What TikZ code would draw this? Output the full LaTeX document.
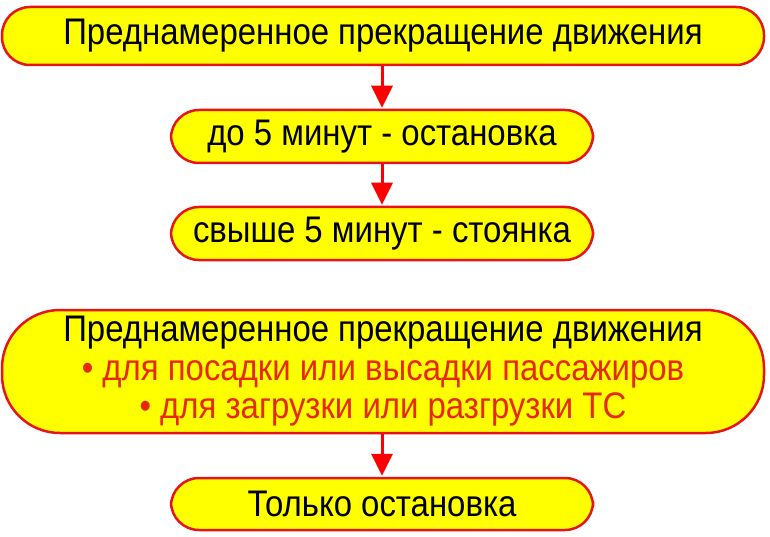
\documentclass[tikz,border=0pt]{standalone}
\usepackage{fontspec}
\setmainfont{Liberation Sans}[FakeStretch=0.89]
\usetikzlibrary{arrows.meta}
\definecolor{boxyellow}{RGB}{255, 255, 0}
\definecolor{boxred}{RGB}{230, 20, 20}
\definecolor{notered}{RGB}{232, 40, 0}

\tikzset{
    stadium/.style={draw=boxred, fill=boxyellow, line width=2.5pt,
        rounded corners=28pt, align=center, inner sep=0pt,
        font=\fontsize{37}{38.5}\selectfont},
    wide/.style={stadium, minimum width=762pt, minimum height=58pt},
    narrow/.style={stadium, minimum width=422pt, minimum height=53pt},
    flow/.style={draw=red, line width=3pt,
        -{Triangle[width=21pt, length=22pt]}, shorten >=1pt}
}

\begin{document}
\begin{tikzpicture}[x=1pt, y=-1pt]
\useasboundingbox (0,0) rectangle (770,537);

% === Parte superior: parada y estacionamiento ===
\node[wide]   (intent) at (383, 36)    {Преднамеренное прекращение движения};
\node[narrow] (short)  at (382, 136.5) {до 5 минут - остановка};
\node[narrow] (long)   at (382, 233.5) {свыше 5 минут - стоянка};

\draw[flow] (intent.south -| short.north) -- (short.north);
\draw[flow] (short) -- (long);

% === Parte inferior: solo parada ===
\node[wide, minimum height=123pt, rounded corners=58pt] (purpose) at (383, 371.5)
    {Преднамеренное прекращение движения\\
     \textcolor{notered}{• для посадки или высадки пассажиров}\\
     \textcolor{notered}{• для загрузки или разгрузки ТС}};
\node[narrow, minimum height=52pt] (only) at (382, 504) {Только остановка};

\draw[flow] (purpose.south -| only.north) -- (only.north);

\end{tikzpicture}
\end{document}
